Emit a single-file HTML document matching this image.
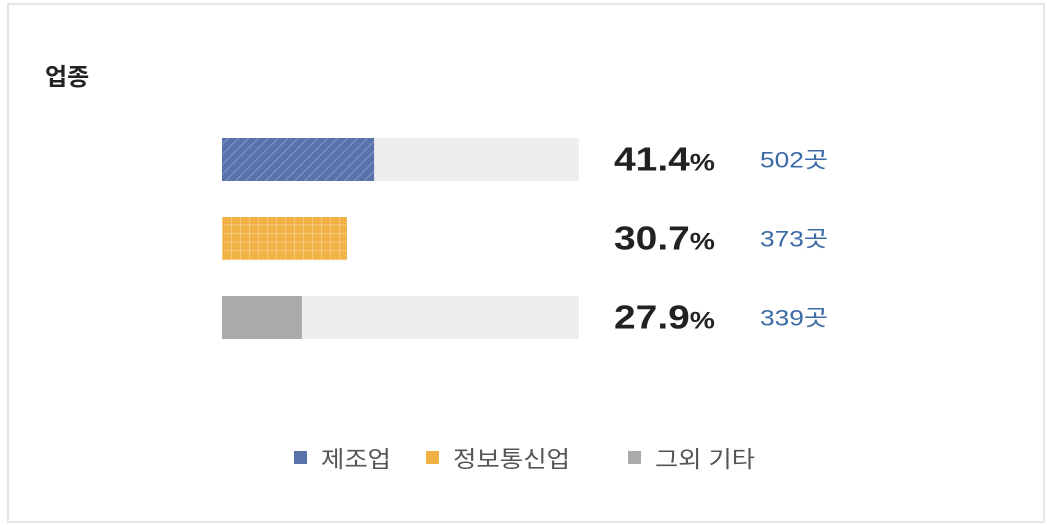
<!DOCTYPE html>
<html><head><meta charset="utf-8"><style>
body{margin:0;width:1047px;height:525px;background:#fff;overflow:hidden;font-family:"Liberation Sans","Noto Sans CJK KR",sans-serif}
#frame{position:absolute;left:7px;top:3px;width:1034px;height:516px;border:2px solid #e6e6e6}
#title{position:absolute;left:45px;top:57px;font-size:24px;font-weight:bold;color:#222}
</style></head><body>
<div id="frame"></div>
<div id="title">업종</div>
<svg id="chart" width="1047" height="525" style="position:absolute;left:0;top:0">
<defs>
<pattern id="hatch" width="7" height="7" patternUnits="userSpaceOnUse" patternTransform="rotate(45)">
<rect width="7" height="7" fill="#5a72ab"/><line x1="0" y1="0" x2="0" y2="7" stroke="#8fa2cf" stroke-width="1.5"/></pattern>
<pattern id="grid" width="9" height="8.6" patternUnits="userSpaceOnUse" x="222" y="216">
<rect width="9" height="8.6" fill="#f0b245"/><path d="M0 0H9M0 0V8.6" stroke="#f7d59a" stroke-width="1.2"/></pattern>
</defs>
</svg>
<script>
const categories=["제조업","정보통신업","그외 기타"];
const percents=[41.4,30.7,27.9];
const counts=[502,373,339];
const barValues=[42.6,35.0,22.4];
const showTrack=[true,false,true];
const fills=["url(#hatch)","url(#grid)","#aaaaaa"];
const legendColors=["#5a72ab","#f0b245","#aaaaaa"];
const svg=document.getElementById('chart');
const NS="http://www.w3.org/2000/svg";
const x0=222,trackW=357,rowY0=138,rowStep=79,barH=43;
const xs=v=>trackW*v/100;
const ys=i=>rowY0+i*rowStep;
function mk(t,a){const e=document.createElementNS(NS,t);for(const k in a)e.setAttribute(k,a[k]);svg.appendChild(e);return e;}
categories.forEach((c,i)=>{
 const y=ys(i);
 if(showTrack[i]){const tr=mk('rect',{x:x0,y:y,width:trackW,height:barH,fill:'#eeeeee'});
 
 }
 const b=mk('rect',{x:x0,y:y,width:xs(barValues[i]),height:barH,fill:fills[i]});
 
 
 const p=mk('text',{x:614,y:y+barH/2+11,'font-size':33,'font-weight':'bold',fill:'#222','font-family':'"Liberation Sans",sans-serif',textLength:101,lengthAdjust:'spacingAndGlyphs'});
 p.innerHTML=percents[i].toFixed(1)+'<tspan font-size="24">%</tspan>';
 
 
 const n=mk('text',{x:760,y:y+barH/2+8,'font-size':22,fill:'#3b6aa6','font-family':'"Liberation Sans","Noto Sans CJK KR",sans-serif',textLength:68,lengthAdjust:'spacingAndGlyphs'});
 n.textContent=counts[i]+'곳';
 
 
});
const legX=[294,426,628];
const legW=[70,117,100];
categories.forEach((c,i)=>{
 const s=mk('rect',{x:legX[i],y:451,width:13,height:13,fill:legendColors[i]});
 
 
 const t=mk('text',{x:legX[i]+27,y:467,'font-size':23,fill:'#555','font-family':'"Liberation Sans","Noto Sans CJK KR",sans-serif',textLength:legW[i],lengthAdjust:'spacingAndGlyphs'});
 t.textContent=c;
 
 
});
</script>
</body></html>
